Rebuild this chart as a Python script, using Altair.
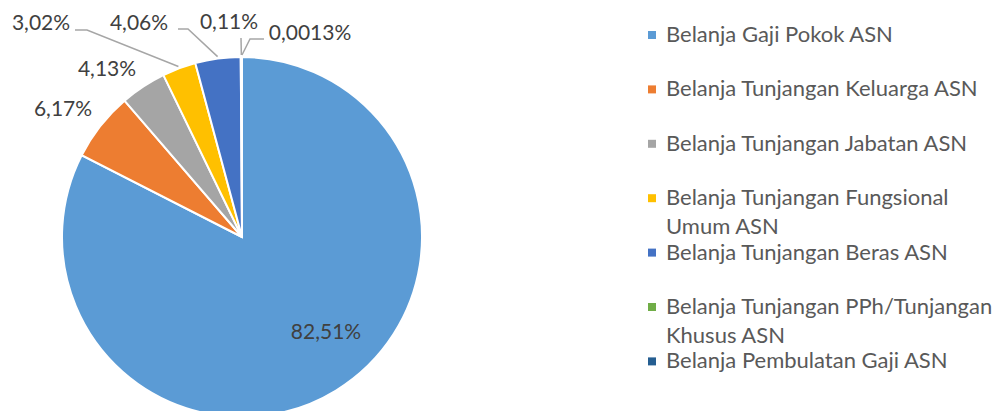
import math
import altair as alt
import pandas as pd

# ---- data ----
categories = [
    "Belanja Gaji Pokok ASN",
    "Belanja Tunjangan Keluarga ASN",
    "Belanja Tunjangan Jabatan ASN",
    "Belanja Tunjangan Fungsional Umum ASN",
    "Belanja Tunjangan Beras ASN",
    "Belanja Tunjangan PPh/Tunjangan Khusus ASN",
    "Belanja Pembulatan Gaji ASN",
]
values = [82.51, 6.17, 4.13, 3.02, 4.06, 0.11, 0.0013]
label_texts = ["82,51%", "6,17%", "4,13%", "3,02%", "4,06%", "0,11%", "0,0013%"]
legend_lines = [
    ["Belanja Gaji Pokok ASN"],
    ["Belanja Tunjangan Keluarga ASN"],
    ["Belanja Tunjangan Jabatan ASN"],
    ["Belanja Tunjangan Fungsional", "Umum ASN"],
    ["Belanja Tunjangan Beras ASN"],
    ["Belanja Tunjangan PPh/Tunjangan", "Khusus ASN"],
    ["Belanja Pembulatan Gaji ASN"],
]

# ---- styles / layout ----
colors = ["#5B9BD5", "#ED7D31", "#A5A5A5", "#FFC000", "#4472C4", "#70AD47", "#255E91"]
FONT = "Lato"
FS_LAB = 21
FS_LEG = 22
W, H = 985, 403
CX, CY, R = 234, 229, 180
# label centres relative to pie centre (pixels)
label_offset = [(84, 96), (-179, -127), (-135, -167), (-201, -213),
                (-103, -213), (-13, -214), (68, -203)]
# leader lines: elbow and end relative to pie centre, keyed by slice index
leader_elbow = {3: (-155, -207), 4: (-54, -208), 5: (-1, -199), 6: (8, -198)}
leader_end = {3: (-167, -207), 4: (-64, -208), 5: (-1, -199), 6: (22, -198)}
LEG_SYM_X, LEG_TXT_X, LEG_Y0, LEG_STEP, LEG_LH = 644, 658, 27, 54.4, 29

# ---- derived tables ----
slices = pd.DataFrame({"cat": categories, "val": values, "idx": list(range(len(values)))})
total = sum(values)
mid_angles = []
acc = 0.0
for v in values:
    mid_angles.append((acc + v / 2) / total * 2 * math.pi)
    acc += v

labels = pd.DataFrame({
    "txt": label_texts,
    "px": [CX + o[0] for o in label_offset],
    "py": [CY + o[1] for o in label_offset],
})

lrows = []
for i in leader_elbow:
    a = mid_angles[i]
    pts = [(CX + (R + 2) * math.sin(a), CY - (R + 2) * math.cos(a)),
           (CX + leader_elbow[i][0], CY + leader_elbow[i][1]),
           (CX + leader_end[i][0], CY + leader_end[i][1])]
    for s, (x, y) in enumerate(pts):
        lrows.append({"lid": i, "seq": s, "px": x, "py": y})
leaders = pd.DataFrame(lrows)

legsym = pd.DataFrame({
    "cat": categories,
    "px": [LEG_SYM_X] * len(categories),
    "py": [LEG_Y0 + LEG_STEP * i for i in range(len(categories))],
})
ltx = []
for i, lines in enumerate(legend_lines):
    for j, t in enumerate(lines):
        ltx.append({"txt": t, "px": LEG_TXT_X, "py": LEG_Y0 + LEG_STEP * i + LEG_LH * j})
legtxt = pd.DataFrame(ltx)

color_scale = alt.Scale(domain=categories, range=colors)

pie = alt.Chart(slices).mark_arc(outerRadius=R, stroke="white", strokeWidth=2).encode(
    theta=alt.Theta("val:Q", stack=True),
    color=alt.Color("cat:N", scale=color_scale, legend=None),
    order=alt.Order("idx:Q"),
    x=alt.value(CX),
    y=alt.value(CY),
)

lead = alt.Chart(leaders).mark_line(color="#A6A6A6", strokeWidth=1.5).encode(
    x=alt.X("px:Q", scale=None),
    y=alt.Y("py:Q", scale=None),
    detail="lid:N",
    order="seq:Q",
)

lab = alt.Chart(labels).mark_text(font=FONT, fontSize=FS_LAB, color="#404040",
                                  align="center", baseline="middle").encode(
    x=alt.X("px:Q", scale=None),
    y=alt.Y("py:Q", scale=None),
    text="txt:N",
)

sym = alt.Chart(legsym).mark_square(size=64, opacity=1).encode(
    x=alt.X("px:Q", scale=None),
    y=alt.Y("py:Q", scale=None),
    color=alt.Color("cat:N", scale=color_scale, legend=None),
)

ltext = alt.Chart(legtxt).mark_text(font=FONT, fontSize=FS_LEG, color="#595959",
                                    align="left", baseline="middle").encode(
    x=alt.X("px:Q", scale=None),
    y=alt.Y("py:Q", scale=None),
    text="txt:N",
)

chart = alt.layer(pie, lead, lab, sym, ltext).properties(
    width=W, height=H, padding=0, autosize=alt.AutoSizeParams(type="none")
).configure_view(stroke=None)

chart.save("out.html", embed_options={"renderer": "svg", "actions": False})
